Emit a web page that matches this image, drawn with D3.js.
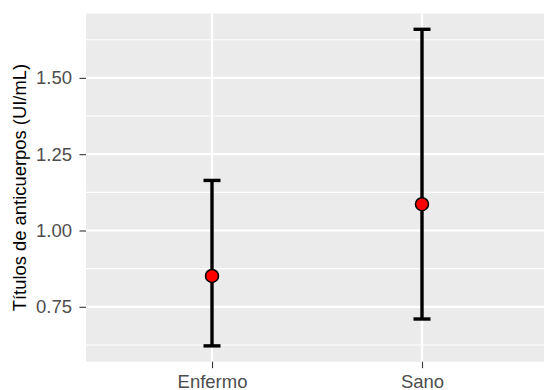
<!DOCTYPE html>
<html>
<head>
<meta charset="utf-8">
<script src="https://cdn.jsdelivr.net/npm/d3@7"></script>
<style>
  body { margin: 0; background: #fff; }
  svg { display: block; font-family: "Liberation Sans", Arial, sans-serif; }
</style>
</head>
<body>
<div id="chart"></div>
<script>
const groups = ["Enfermo", "Sano"];
const means = [0.851, 1.086];
const lower = [0.622, 0.710];
const upper = [1.164, 1.659];
const yTicks = [0.75, 1.00, 1.25, 1.50];
const yMinor = [0.625, 0.875, 1.125, 1.375, 1.625];

const width = 544, height = 390;
const margin = { top: 13.5, right: -4, bottom: 28.3, left: 86 };

const svg = d3.select("#chart")
    .append("svg")
    .attr("width", width)
    .attr("height", height);

const lo = d3.min(lower), hi = d3.max(upper);
const pad = (hi - lo) * 0.05;

const x = d3.scalePoint()
    .domain(groups)
    .range([margin.left, width - margin.right])
    .padding(0.6);

const y = d3.scaleLinear()
    .domain([lo - pad, hi + pad])
    .range([height - margin.bottom, margin.top]);

const rows = groups.map((g, i) => ({ g, m: means[i], lo: lower[i], hi: upper[i] }));

// panel background
svg.append("rect")
    .attr("x", margin.left)
    .attr("y", margin.top)
    .attr("width", width - margin.right - margin.left)
    .attr("height", height - margin.bottom - margin.top)
    .attr("fill", "#ebebeb");

// grid
svg.append("g").selectAll("line")
    .data(yMinor)
    .enter()
    .append("line")
    .attr("x1", margin.left).attr("x2", width - margin.right)
    .attr("y1", d => y(d)).attr("y2", d => y(d))
    .attr("stroke", "#fff").attr("stroke-width", 1.1);

svg.append("g").selectAll("line")
    .data(yTicks)
    .enter()
    .append("line")
    .attr("x1", margin.left).attr("x2", width - margin.right)
    .attr("y1", d => y(d)).attr("y2", d => y(d))
    .attr("stroke", "#fff").attr("stroke-width", 2.2);

svg.append("g").selectAll("line")
    .data(groups)
    .enter()
    .append("line")
    .attr("x1", d => x(d)).attr("x2", d => x(d))
    .attr("y1", margin.top).attr("y2", height - margin.bottom)
    .attr("stroke", "#fff").attr("stroke-width", 2.2);

// y axis
const yAxis = svg.append("g")
    .attr("transform", `translate(${margin.left},0)`)
    .call(d3.axisLeft(y).tickValues(yTicks).tickFormat(d3.format(".2f")).tickSize(6.5).tickPadding(7.5));
yAxis.select(".domain").remove();
yAxis.selectAll(".tick line").attr("stroke", "#333").attr("stroke-width", 1.1);
yAxis.selectAll(".tick text")
    .attr("fill", "#4d4d4d")
    .style("font-size", "18.5px")
    .style("font-family", "'Liberation Sans', Arial, sans-serif");

// x axis
const xAxis = svg.append("g")
    .attr("transform", `translate(0,${height - margin.bottom})`)
    .call(d3.axisBottom(x).tickSize(6.5).tickPadding(6.5));
xAxis.select(".domain").remove();
xAxis.selectAll(".tick line").attr("stroke", "#333").attr("stroke-width", 1.1);
xAxis.selectAll(".tick text")
    .attr("fill", "#4d4d4d")
    .style("font-size", "18.5px")
    .style("font-family", "'Liberation Sans', Arial, sans-serif");

// y title
svg.append("text")
    .attr("transform", `translate(26,${(margin.top + height - margin.bottom) / 2}) rotate(-90)`)
    .attr("text-anchor", "middle")
    .style("font-size", "18.4px")
    .attr("fill", "#000")
    .text("Títulos de anticuerpos (UI/mL)");

// error bars
const bars = svg.append("g").selectAll("g")
    .data(rows)
    .enter()
    .append("g");

bars.append("line")
    .attr("x1", d => x(d.g)).attr("x2", d => x(d.g))
    .attr("y1", d => y(d.lo)).attr("y2", d => y(d.hi))
    .attr("stroke", "#000").attr("stroke-width", 3.4);

bars.append("line")
    .attr("x1", d => x(d.g) - 8.5).attr("x2", d => x(d.g) + 8.5)
    .attr("y1", d => y(d.lo)).attr("y2", d => y(d.lo))
    .attr("stroke", "#000").attr("stroke-width", 3.4);

bars.append("line")
    .attr("x1", d => x(d.g) - 8.5).attr("x2", d => x(d.g) + 8.5)
    .attr("y1", d => y(d.hi)).attr("y2", d => y(d.hi))
    .attr("stroke", "#000").attr("stroke-width", 3.4);

bars.append("circle")
    .attr("cx", d => x(d.g))
    .attr("cy", d => y(d.m))
    .attr("r", 6.5)
    .attr("fill", "#ff0000")
    .attr("stroke", "#000")
    .attr("stroke-width", 1.5);
</script>
</body>
</html>
